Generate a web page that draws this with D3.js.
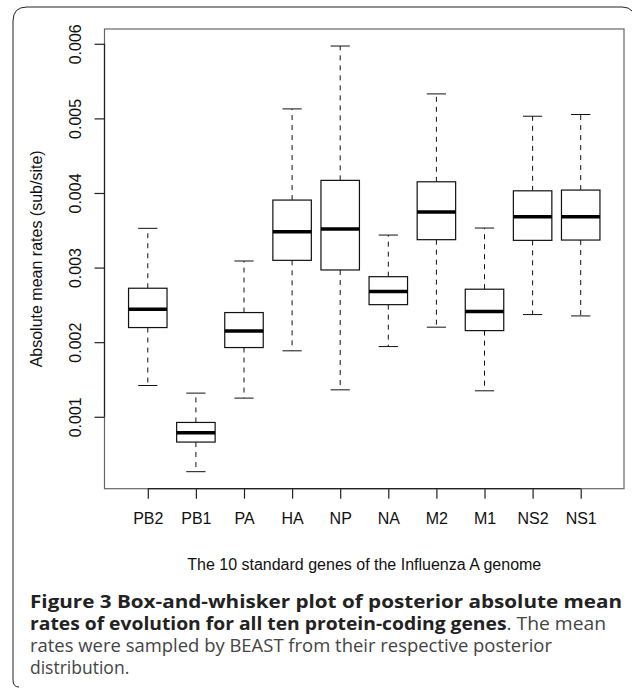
<!DOCTYPE html>
<html>
<head>
<meta charset="utf-8">
<script src="https://cdn.jsdelivr.net/npm/d3@7"></script>
<style>
  body { margin: 0; background: #fff; }
  svg { display: block; }
</style>
</head>
<body>
<script>
// gene names, in plotting order
var genes = ['PB2', 'PB1', 'PA', 'HA', 'NP', 'NA', 'M2', 'M1', 'NS2', 'NS1'];

// box-and-whisker summaries (sub/site)
var whiskerLow  = [0.001419, 0.000264, 0.001250, 0.001884, 0.001361, 0.001941, 0.002201, 0.001348, 0.002370, 0.002352];
var q1          = [0.002196, 0.000661, 0.001928, 0.003097, 0.002968, 0.002503, 0.003374, 0.002155, 0.003365, 0.003369];
var medians     = [0.002442, 0.000786, 0.002151, 0.003481, 0.003517, 0.002678, 0.003744, 0.002410, 0.003682, 0.003682];
var q3          = [0.002723, 0.000924, 0.002397, 0.003905, 0.004169, 0.002878, 0.004150, 0.002710, 0.004029, 0.004039];
var whiskerHigh = [0.003526, 0.001317, 0.003088, 0.005127, 0.005970, 0.003436, 0.005328, 0.003530, 0.005029, 0.005052];

var yTicks = [0.001, 0.002, 0.003, 0.004, 0.005, 0.006];

var W = 632, H = 691;
// note: "top" is taken by window.top, so plot edges get their own names
var plotL = 104.5, plotR = 624, plotT = 29, plotB = 488.7;

var svg = d3.select('body').append('svg')
    .attr('width', W)
    .attr('height', H);

// outer figure frame (only top/left sides show in the original)
svg.append('path')
    .attr('d', 'M19,687 Q13,687 13,680 L13,21 Q13,7 27,7 L622,7 Q629,7 632,11')
    .attr('fill', 'none')
    .attr('stroke', '#222')
    .attr('stroke-width', 1);

// R style: x positions 1..10, range padded 4%
var x = d3.scaleLinear()
    .domain([0.1, genes.length + 0.9])
    .range([plotL, plotR]);

var lo = d3.min(whiskerLow), hi = d3.max(whiskerHigh);
var pad = (hi - lo) * 0.04;
var y = d3.scaleLinear()
    .domain([lo - pad, hi + pad])
    .range([plotB, plotT]);

var boxW = (x(2) - x(1)) * 0.8;

// plot frame
svg.append('rect')
    .attr('x', plotL)
    .attr('y', plotT)
    .attr('width', plotR - plotL)
    .attr('height', plotB - plotT)
    .attr('fill', 'none')
    .attr('stroke', '#666')
    .attr('stroke-width', 1.2);

var g = svg.selectAll('g.box')
    .data(genes)
    .enter()
    .append('g')
    .attr('class', 'box');

// whiskers
g.append('line')
    .attr('x1', function (d, i) { return x(i + 1); })
    .attr('x2', function (d, i) { return x(i + 1); })
    .attr('y1', function (d, i) { return y(q3[i]); })
    .attr('y2', function (d, i) { return y(whiskerHigh[i]); })
    .attr('stroke', '#111')
    .attr('stroke-dasharray', '5,5');
g.append('line')
    .attr('x1', function (d, i) { return x(i + 1); })
    .attr('x2', function (d, i) { return x(i + 1); })
    .attr('y1', function (d, i) { return y(q1[i]); })
    .attr('y2', function (d, i) { return y(whiskerLow[i]); })
    .attr('stroke', '#111')
    .attr('stroke-dasharray', '5,5');

// staples
g.append('line')
    .attr('x1', function (d, i) { return x(i + 1) - boxW / 4; })
    .attr('x2', function (d, i) { return x(i + 1) + boxW / 4; })
    .attr('y1', function (d, i) { return y(whiskerHigh[i]); })
    .attr('y2', function (d, i) { return y(whiskerHigh[i]); })
    .attr('stroke', '#111');
g.append('line')
    .attr('x1', function (d, i) { return x(i + 1) - boxW / 4; })
    .attr('x2', function (d, i) { return x(i + 1) + boxW / 4; })
    .attr('y1', function (d, i) { return y(whiskerLow[i]); })
    .attr('y2', function (d, i) { return y(whiskerLow[i]); })
    .attr('stroke', '#111');

// boxes
g.append('rect')
    .attr('x', function (d, i) { return x(i + 1) - boxW / 2; })
    .attr('y', function (d, i) { return y(q3[i]); })
    .attr('width', boxW)
    .attr('height', function (d, i) { return y(q1[i]) - y(q3[i]); })
    .attr('fill', '#fff')
    .attr('stroke', '#111')
    .attr('stroke-width', 1.2);

// medians
g.append('line')
    .attr('x1', function (d, i) { return x(i + 1) - boxW / 2; })
    .attr('x2', function (d, i) { return x(i + 1) + boxW / 2; })
    .attr('y1', function (d, i) { return y(medians[i]); })
    .attr('y2', function (d, i) { return y(medians[i]); })
    .attr('stroke', '#000')
    .attr('stroke-width', 3.5);

// axes
var font = 'Liberation Sans, Arial, sans-serif';

var xAxis = d3.axisBottom(x)
    .tickValues(d3.range(1, genes.length + 1))
    .tickFormat(function (d) { return genes[d - 1]; })
    .tickSize(10)
    .tickPadding(14)
    .tickSizeOuter(0);
var xg = svg.append('g')
    .attr('transform', 'translate(0,' + plotB + ')')
    .call(xAxis);
xg.select('.domain').remove();
xg.append('line')
    .attr('x1', x(1)).attr('x2', x(genes.length))
    .attr('stroke', '#222').attr('stroke-width', 1.2);
xg.selectAll('.tick line').attr('stroke', '#222').attr('stroke-width', 1.2);
xg.selectAll('.tick text')
    .attr('font-family', font)
    .attr('font-size', 16)
    .attr('fill', '#111');

var yAxis = d3.axisLeft(y)
    .tickValues(yTicks)
    .tickFormat(d3.format('.3f'))
    .tickSize(10)
    .tickSizeOuter(0);
var yg = svg.append('g')
    .attr('transform', 'translate(' + plotL + ',0)')
    .call(yAxis);
yg.select('.domain').remove();
yg.append('line')
    .attr('y1', y(yTicks[0])).attr('y2', y(yTicks[yTicks.length - 1]))
    .attr('stroke', '#222').attr('stroke-width', 1.2);
yg.selectAll('.tick line').attr('stroke', '#222').attr('stroke-width', 1.2);
yg.selectAll('.tick text')
    .attr('x', null).attr('dy', null)
    .attr('transform', 'translate(-23.5,0) rotate(-90)')
    .attr('text-anchor', 'middle')
    .attr('font-family', font)
    .attr('font-size', 16)
    .attr('fill', '#111');

// axis titles
svg.append('text')
    .attr('transform', 'translate(42,' + ((plotT + plotB) / 2) + ') rotate(-90)')
    .attr('text-anchor', 'middle')
    .attr('font-family', font)
    .attr('font-size', 16)
    .attr('fill', '#111')
    .text('Absolute mean rates (sub/site)');

svg.append('text')
    .attr('x', (plotL + plotR) / 2)
    .attr('y', 570)
    .attr('text-anchor', 'middle')
    .attr('font-family', font)
    .attr('font-size', 16)
    .attr('fill', '#111')
    .text('The 10 standard genes of the Influenza A genome');

// caption
var capFont = 'Open Sans, Noto Sans, sans-serif';
var capLines = [
    [['Figure 3 Box-and-whisker plot of posterior absolute mean', true]],
    [['rates of evolution for all ten protein-coding genes', true], ['. The mean', false]],
    [['rates were sampled by BEAST from their respective posterior', false]],
    [['distribution.', false]]
];
var capY = [608, 630, 652, 674];
var capW = [592, 576, 522, null];

capLines.forEach(function (line, li) {
    var t = svg.append('text')
        .attr('x', 30)
        .attr('y', capY[li])
        .attr('font-family', capFont)
        .attr('font-size', 17.5);
    if (capW[li]) {
        t.attr('textLength', capW[li])
            .attr('lengthAdjust', 'spacingAndGlyphs');
    }
    line.forEach(function (part) {
        t.append('tspan')
            .attr('font-weight', part[1] ? 'bold' : 'normal')
            .attr('fill', part[1] ? '#222' : '#444')
            .text(part[0]);
    });
});
</script>
</body>
</html>
